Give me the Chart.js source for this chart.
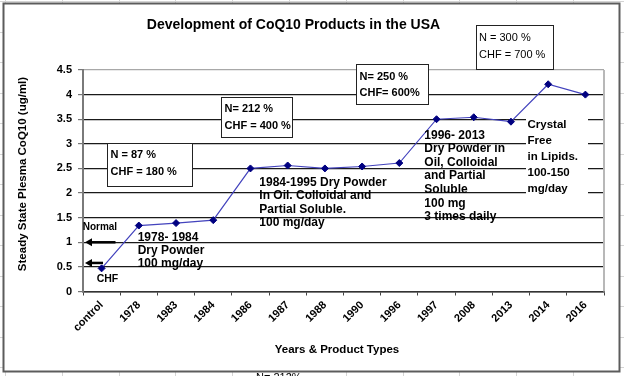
<!DOCTYPE html>
<html><head><meta charset="utf-8">
<script src="https://cdn.jsdelivr.net/npm/chart.js@4"></script>
<style>html,body{margin:0;padding:0;background:#fff;overflow:hidden}canvas{display:block}</style>
</head><body>
<canvas id="c" width="624" height="376"></canvas>
<script>
// ---- data ----
const categories = ['control','1978','1983','1984','1986','1987','1988','1990','1996','1997','2008','2013','2014','2016'];
const plasmaCoQ10 = [0.47,1.34,1.39,1.45,2.5,2.56,2.5,2.54,2.61,3.5,3.54,3.45,4.21,4.0];
const yTickLabels = ['0','0.5','1','1.5','2','2.5','3','3.5','4','4.5'];
const chartTitle = 'Development of CoQ10 Products in the USA';
const yTitle = 'Steady State Plesma CoQ10 (ug/ml)';
const xTitle = 'Years & Product Types';
const note1978 = ['1978- 1984','Dry Powder','100 mg/day'];
const note1984 = ['1984-1995 Dry Powder','In Oil. Colloidal and','Partial Soluble.','100 mg/day'];
const note1996 = ['1996- 2013','Dry Powder in','Oil, Colloidal','and Partial','Soluble','100 mg','3 times daily'];
const noteCrystal = ['Crystal','Free','in Lipids.','100-150','mg/day'];
const box87 = ['N = 87 %','CHF = 180 %'];
const box212 = ['N= 212 %','CHF = 400 %'];
const box250 = ['N= 250 %','CHF= 600%'];
const box300 = ['N = 300 %','CHF = 700 %'];

const FONT = "'Liberation Sans', Arial, sans-serif";

function drawLines(ctx, arr, x, y0, dy, font){
  ctx.font = font; ctx.fillStyle = '#000'; ctx.textAlign = 'left'; ctx.textBaseline = 'alphabetic';
  arr.forEach((t,i)=>ctx.fillText(t, x, y0 + i*dy));
}
function drawBox(ctx, x, y, w, h){
  ctx.fillStyle = '#fff'; ctx.fillRect(x, y, w, h);
  ctx.strokeStyle = '#222'; ctx.lineWidth = 1; ctx.strokeRect(x+0.5, y+0.5, w, h);
}
function drawArrow(ctx, xTail, xHead, y){
  ctx.strokeStyle = '#000'; ctx.fillStyle = '#000'; ctx.lineWidth = 2.5;
  ctx.beginPath(); ctx.moveTo(xTail, y); ctx.lineTo(xHead + 5, y); ctx.stroke();
  ctx.beginPath(); ctx.moveTo(xHead, y); ctx.lineTo(xHead + 7, y - 4); ctx.lineTo(xHead + 7, y + 4); ctx.closePath(); ctx.fill();
}

const frame = {
  id: 'frame',
  beforeDraw(chart){
    const ctx = chart.ctx; ctx.save();
    ctx.fillStyle = '#fff'; ctx.fillRect(0,0,624,376);
    ctx.strokeStyle = '#d4d4d4'; ctx.lineWidth = 1;
    for (let x = 4.9; x < 624; x += 56.8){ const px = Math.round(x)+0.5; ctx.beginPath(); ctx.moveTo(px,0); ctx.lineTo(px,376); ctx.stroke(); }
    for (let y = 1; y < 376; y += 30.5){ const py = Math.round(y)+0.5; ctx.beginPath(); ctx.moveTo(0,py); ctx.lineTo(624,py); ctx.stroke(); }
    ctx.fillStyle = '#fff'; ctx.fillRect(3,3,617,369);
    ctx.strokeStyle = '#5c5c5c'; ctx.lineWidth = 2; ctx.strokeRect(3.5,3.5,616,368);
    // text peeking below the frame
    ctx.font = '11px ' + FONT; ctx.fillStyle = '#000'; ctx.textBaseline = 'alphabetic';
    ctx.fillText('N= 212%', 256, 381);
    ctx.restore();
  },
  afterDraw(chart){
    const ctx = chart.ctx, a = chart.chartArea, ys = chart.scales.y;
    ctx.save();
    // right plot border
    ctx.strokeStyle = '#b8b8b8'; ctx.lineWidth = 2;
    ctx.beginPath(); ctx.moveTo(a.right, a.top); ctx.lineTo(a.right, a.bottom); ctx.stroke();
    // titles
    ctx.fillStyle = '#000'; ctx.textBaseline = 'alphabetic'; ctx.textAlign = 'center';
    ctx.font = 'bold 14px ' + FONT; ctx.fillText(chartTitle, 293.5, 28.5);
    ctx.font = 'bold 11.5px ' + FONT; ctx.fillText(xTitle, 337, 353);
    ctx.save(); ctx.translate(26, 174); ctx.rotate(-Math.PI/2); ctx.fillText(yTitle, 0, 0); ctx.restore();
    // boxes
    drawBox(ctx, 107, 143, 85, 43); drawLines(ctx, box87, 110.5, 158.3, 16.7, 'bold 11px ' + FONT);
    drawBox(ctx, 221, 97, 71, 40); drawLines(ctx, box212, 224.5, 111.8, 17, 'bold 11px ' + FONT);
    drawBox(ctx, 356, 64, 72, 40); drawLines(ctx, box250, 359.5, 79.5, 16, 'bold 11px ' + FONT);
    drawBox(ctx, 476, 25, 77, 44); drawLines(ctx, box300, 479, 41, 16.5, '11px ' + FONT);
    // crystal note with white backing
    ctx.fillStyle = '#fff'; ctx.fillRect(526, 114, 62, 86);
    drawLines(ctx, noteCrystal, 527.5, 128, 16, 'bold 11.5px ' + FONT);
    // free notes
    drawLines(ctx, note1978, 137.7, 240.7, 13.3, 'bold 12px ' + FONT);
    drawLines(ctx, note1984, 259.3, 186, 13.3, 'bold 12px ' + FONT);
    drawLines(ctx, note1996, 424.3, 138.5, 13.6, 'bold 12px ' + FONT);
    drawLines(ctx, ['Normal'], 82.7, 230, 0, 'bold 10px ' + FONT);
    drawLines(ctx, ['CHF'], 96.7, 282, 0, 'bold 10.5px ' + FONT);
    drawArrow(ctx, 115.5, 85, ys.getPixelForValue(1));
    drawArrow(ctx, 103, 85, ys.getPixelForValue(0.58));
    ctx.restore();
  }
};

new Chart(document.getElementById('c'), {
  type: 'line',
  data: {
    labels: categories,
    datasets: [{
      data: plasmaCoQ10,
      borderColor: '#4343bd', borderWidth: 1.2,
      pointStyle: 'rectRot', pointRadius: 3.5,
      pointBackgroundColor: '#000080', pointBorderColor: '#000080', pointBorderWidth: 1,
      tension: 0, fill: false
    }]
  },
  options: {
    responsive: false, animation: false, devicePixelRatio: 1,
    layout: { padding: { top: 70, right: 20, left: 0, bottom: 0 } },
    plugins: { legend: { display: false }, title: { display: false }, tooltip: { enabled: false } },
    scales: {
      x: {
        offset: true,
        grid: { offset: true, drawOnChartArea: false, tickLength: 4, tickColor: '#444', tickWidth: 1 },
        border: { color: '#333', width: 1.5 },
        ticks: { autoSkip: false, minRotation: 45, maxRotation: 45, padding: 3, color: '#000',
                 font: { family: FONT, size: 11, weight: 'bold' } },
        afterFit: s => { s.height = 84.5; }
      },
      y: {
        min: 0, max: 4.5,
        ticks: { stepSize: 0.5, padding: 6, color: '#000', font: { family: FONT, size: 11, weight: 'bold' },
                 callback: (v, i) => yTickLabels[i] },
        grid: { color: c => (c.tick && c.tick.value === 4.5) ? '#a8a8a8' : '#1a1a1a', lineWidth: 1.2,
                tickLength: 5, tickColor: '#777' },
        border: { color: '#7a7a7a', width: 2 },
        afterFit: s => { s.width = 83; }
      }
    }
  },
  plugins: [frame]
});
</script>
</body></html>
